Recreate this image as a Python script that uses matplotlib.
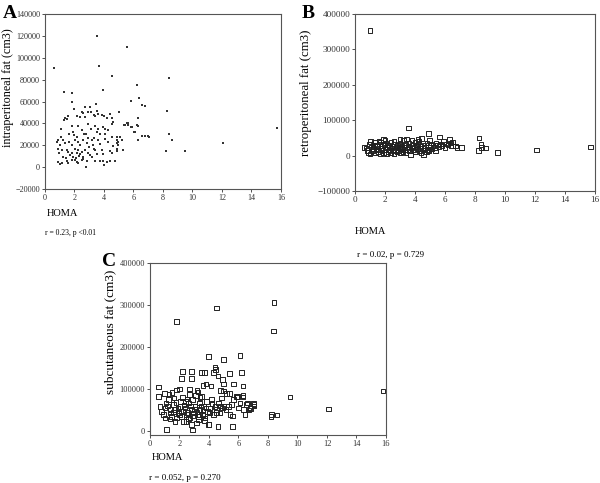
import matplotlib
matplotlib.use("Agg")
import matplotlib.pyplot as plt

plt.rcParams['font.family'] = ['Liberation Serif', 'DejaVu Serif']

# panel A: HOMA vs intraperitoneal fat
homa_a = [0.6, 3.5, 5.56, 3.66, 4.52, 8.43, 3.95, 6.24, 1.31, 1.83, 1.8, 5.83, 6.37, 6.58, 6.78,
          3.48, 2.73, 3.05, 1.97, 5.0, 8.25, 6.3, 1.47, 1.31, 1.06, 6.26, 5.6, 5.62, 5.33, 5.88,
          6.06, 6.6, 6.8, 7.0, 7.02, 6.33, 8.38, 8.63, 8.23, 9.51, 12.1, 15.7,
          2.5, 2.55, 2.9, 3.1, 3.5, 3.62,
          1.36, 1.54, 2.15, 2.35, 2.7, 3.3, 3.4, 3.85, 3.98, 4.2, 4.52, 4.4,
          1.8, 1.92, 2.26, 2.49, 2.67, 2.78, 2.94, 3.12, 3.39, 3.5, 3.57, 3.95, 4.07, 4.29, 4.52,
          4.63, 5.4, 5.54, 5.83, 6.1, 6.28, 4.9, 4.85,
          0.79, 0.9, 1.24, 1.36, 1.63, 1.81, 2.03, 2.26, 2.37, 2.6, 2.82, 3.16, 3.28, 3.34, 3.62,
          3.73, 4.07, 4.29, 4.52, 4.86, 4.97, 4.93, 4.86, 4.86, 5.08, 5.24, 5.31,
          0.86, 0.95, 1.13, 1.02, 1.47, 1.58, 1.7, 1.81, 2.03, 2.15, 2.26, 2.37, 2.49, 2.71, 2.94,
          3.05, 3.39, 3.5, 3.84, 3.95, 4.41, 4.52,
          0.9, 1.02, 1.13, 1.47, 1.58, 1.81, 2.03, 2.15, 2.26, 2.49, 2.6, 2.82, 2.78, 3.39, 3.73,
          3.95, 4.0, 4.18, 4.41, 4.75,
          1.2, 1.4, 1.9, 2.1, 2.3, 2.6, 3.2, 3.3, 2.2, 2.0, 1.6, 3.7, 4.1, 4.6, 3.0, 2.9, 1.1]
fat_a = [90700, 119500, 109400, 92800, 83600, 81800, 70700, 74700, 68900, 67700, 59700, 60600, 63400,
         56700, 56000, 57600, 55100, 55100, 53300, 50000, 51200, 45300, 44400, 42900, 35200, 38900,
         40000, 38500, 38300, 36800, 31900, 28500, 28500, 28500, 27600, 24500, 30000, 24500, 14400,
         14400, 22000, 36100,
         50000, 49200, 50800, 50200, 51000, 49000,
         45000, 46500, 47000, 45500, 46000, 48000, 46500, 48000, 46500, 45000, 45000, 49000,
         37500, 32000, 37500, 34000, 30000, 30000, 39000, 35300, 38000, 32000, 35300, 37000, 35300,
         34300, 39300, 41500, 38300, 40000, 37000, 32000, 38000, 27500, 24500,
         23000, 24500, 25000, 22000, 23000, 20000, 25000, 23000, 20000, 24500, 22000, 24500, 20000,
         17000, 25000, 21500, 26000, 23000, 27500, 22000, 23000, 20000, 17000, 14500, 27500, 25000,
         15500,
         17000, 12500, 15500, 20000, 16000, 14000, 11000, 13000, 17000, 12500, 15500, 12000, 14000,
         15500, 12500, 11000, 15500, 12000, 15500, 12000, 14500, 13000,
         4800, 2500, 3400, 5500, 4000, 6400, 6400, 4900, 3400, 6400, 7000, 5500, 300, 5500, 5500,
         5500, 1800, 4900, 5500, 5500,
         9000, 8000, 9500, 8500, 10000, 9500, 8800, 27000, 28000, 29500, 30500, 30000, 30500, 19000,
         18500, 27000, 27500]

# panel B: HOMA vs retroperitoneal fat
homa_b = [1.0, 3.56, 4.9, 5.64, 8.27, 8.4, 8.45, 8.7, 8.22, 9.5, 12.1, 15.7, 6.8, 7.1, 6.3, 6.35,
          4.2, 3.0, 1.9, 2.6, 5.9, 6.1,
          0.6, 0.75, 0.8, 0.9, 1.0, 1.05, 1.1, 1.15, 1.2, 1.3, 1.35, 1.4, 1.5, 1.55, 1.6, 1.65, 1.7,
          1.75, 1.8, 1.85, 1.9, 2.0, 2.05, 2.1, 2.15, 2.2, 2.25, 2.3, 2.35, 2.4, 2.45, 2.5, 2.55,
          2.6, 2.65, 2.7, 2.75, 2.8, 2.85, 2.9, 2.95, 3.0, 3.05, 3.1, 3.15, 3.2, 3.25, 3.3, 3.35,
          3.4, 3.45, 3.5, 3.55, 3.6, 3.65, 3.7, 3.75, 3.8, 3.85, 3.9, 3.95, 4.0, 4.05, 4.1, 4.15,
          4.2, 4.3, 4.35, 4.4, 4.45, 4.5, 4.55, 4.6, 4.65, 4.7, 4.75, 4.8, 4.85, 4.9, 4.95, 5.0,
          5.1, 5.2, 5.3, 5.4, 5.5, 5.6, 5.7, 5.8, 6.0, 6.2, 6.4, 6.5, 6.7, 5.35, 5.05, 4.25, 3.05,
          2.3, 1.95, 1.45, 1.25, 0.95, 1.7, 2.0]
fat_b = [354000, 78000, 62000, 52000, 50000, 31000, 22000, 21000, 14000, 9500, 16000, 24000, 23000,
         22000, 45000, 36000, 46000, 46000, 45000, 40000, 40000, 33000,
         22000, 21000, 15000, 9000, 5000, 39000, 24000, 14000, 30000, 38000, 7000, 18000, 26000,
         11000, 40000, 33000, 5000, 20000, 14000, 28000, 9000, 18000, 36000, 4000, 24000, 12000,
         30000, 16000, 8000, 38000, 21000, 27000, 13000, 5000, 33000, 18000, 24000, 10000, 29000,
         15000, 21000, 36000, 8000, 26000, 17000, 12000, 42000, 22000, 31000, 9000, 47000, 18000,
         26000, 35000, 13000, 2000, 21000, 44000, 28000, 16000, 24000, 38000, 11000, 30000, 19000,
         34000, 15000, 25000, 8000, 48000, 20000, 3000, 29000, 16000, 22000, 10000, 35000, 18000,
         14000, 42000, 24000, 19000, 28000, 22000, 34000, 30000, 25000, 33000, 28000, 22000, 30000,
         28000, 38000, 27000, 14000, 32000, 40000, 20000, 24000, 30000, 28000, 20000, 32000, 38000,
         44000]

# panel C: HOMA vs subcutaneous fat
homa_c = [1.81, 4.52, 8.4, 8.38, 3.95, 6.1, 5.0, 4.45, 4.4, 2.2, 2.8, 3.5, 3.7, 4.3, 6.2, 5.4, 4.6,
          2.15, 2.8, 4.9, 5.65, 5.0, 3.8, 3.6, 4.13, 6.3, 0.56, 1.0, 2.0, 1.8, 2.66, 3.2, 3.25, 4.8,
          5.0, 5.2, 5.4, 6.3, 6.3, 5.9, 5.95, 9.5, 12.1, 15.8, 8.2, 8.25, 8.6, 7.05, 7.05, 6.6, 6.7,
          6.8, 5.6, 5.6, 4.6, 4.0, 2.9, 1.1,
          0.56, 0.68, 0.79, 0.9, 1.02, 1.08, 1.24, 1.36, 1.4, 1.47, 1.58, 1.63, 1.69, 1.81, 1.92,
          2.03, 2.08, 2.15, 2.26, 2.37, 2.44, 2.49, 2.6, 2.67, 2.71, 2.82, 2.89, 2.94, 3.05, 3.16,
          3.28, 3.34, 3.39, 3.5, 3.57, 3.62, 3.73, 3.84, 3.89, 4.02, 4.07, 4.18, 4.29, 4.41, 4.52,
          4.63, 4.75, 4.86, 4.93, 5.02, 5.15, 5.31, 5.42, 5.54, 5.65, 5.88, 5.99, 6.1, 6.33, 6.44,
          6.55, 6.78, 7.0, 2.82, 3.95, 1.69, 1.02, 1.36, 2.26,
          1.9, 2.1, 2.3, 2.55, 2.75, 3.0, 3.2, 3.45, 3.6, 3.35, 2.4, 2.9, 1.6, 1.2, 3.8, 4.2, 4.5,
          4.8, 2.0, 1.75, 2.2, 2.5, 3.1, 3.4, 1.3, 1.5, 2.6, 3.3, 3.7]
fat_c = [261000, 293000, 306000, 238000, 178000, 180000, 170000, 147000, 152000, 142000, 142000,
         139000, 139000, 140000, 140000, 137000, 131000, 125000, 125000, 123000, 112000, 112000,
         112000, 108000, 107000, 107000, 105000, 90000, 100000, 98000, 100000, 96000, 93000, 96000,
         95000, 89000, 89000, 85000, 81000, 81000, 82000, 81000, 52000, 95000, 35000, 40000, 38000,
         63000, 60000, 67000, 50000, 54000, 36000, 10000, 11000, 15000, 2000, 3000,
         82000, 58000, 46500, 38600, 54500, 66400, 74400, 50500, 42600, 34600, 62400, 78300, 50500,
         30700, 42600, 58400, 70400, 34600, 46500, 54500, 22700, 38600, 66400, 86300, 30700, 50500,
         74400, 42600, 58400, 18700, 34600, 66400, 50500, 82300, 38600, 58400, 30700, 70400, 46500,
         42600, 54500, 74400, 38600, 58400, 50500, 66400, 42600, 78300, 54500, 58400, 50500, 58400,
         38600, 62400, 74400, 82300, 54500, 66400, 50500, 38600, 62400, 54500, 64800, 15900, 15900,
         22700, 30700, 28300, 22700,
         55000, 48000, 62000, 44000, 60000, 52000, 45000, 60000, 48000, 40000, 70000, 36000, 45000,
         60000, 55000, 65000, 44000, 60000, 38000, 68000, 80000, 76000, 85000, 80000, 88000, 92000,
         30000, 28000, 25000]

fig = plt.figure(figsize=(6.0, 4.83), dpi=100)

ax_a = fig.add_axes([0.075, 0.6087, 0.3933, 0.3623])
ax_b = fig.add_axes([0.5917, 0.6046, 0.4, 0.3665])
ax_c = fig.add_axes([0.25, 0.0994, 0.3933, 0.356])

ax_a.scatter(homa_a, fat_a, s=4, marker='s', color='#333333', linewidths=0)
ax_b.scatter(homa_b, fat_b, s=11, marker='s', facecolors='none', edgecolors='#222222', linewidths=0.7)
ax_c.scatter(homa_c, fat_c, s=11, marker='s', facecolors='none', edgecolors='#222222', linewidths=0.7)

ax_a.set_ylim(-20000, 140000)
ax_a.set_yticks(range(-20000, 140001, 20000))
ax_b.set_ylim(-100000, 400000)
ax_b.set_yticks(range(-100000, 400001, 100000))
ax_c.set_ylim(-9500, 400000)
ax_c.set_yticks(range(0, 400001, 100000))

for ax, fs in ((ax_a, 5.9), (ax_b, 6.6), (ax_c, 6.0)):
    ax.set_xlim(0, 16)
    ax.set_xticks(range(0, 17, 2))
    ax.tick_params(labelsize=fs, length=2, width=0.6, pad=1.5, colors='#333333')
    for sp in ax.spines.values():
        sp.set_color('#555555')
        sp.set_linewidth(0.8)

ax_a.set_ylabel("intraperitoneal fat (cm3)", fontsize=8.7)
ax_a.yaxis.set_label_coords(-0.133, 0.577)
ax_b.set_ylabel("retroperitoneal fat (cm3)", fontsize=9.3)
ax_b.yaxis.set_label_coords(-0.18, 0.554)
ax_c.set_ylabel("subcutaneous fat (cm3)", fontsize=9.5)
ax_c.yaxis.set_label_coords(-0.142, 0.6)

W, H = 600.0, 483.0
fig.text(3 / W, 1 - 14 / H, "A", fontsize=14, fontweight='bold', va='center')
fig.text(302 / W, 1 - 14 / H, "B", fontsize=14, fontweight='bold', va='center')
fig.text(102 / W, 1 - 262 / H, "C", fontsize=14, fontweight='bold', va='center')

fig.text(47 / W, 1 - 213 / H, "HOMA", fontsize=7.5, va='center')
fig.text(355 / W, 1 - 232 / H, "HOMA", fontsize=7.5, va='center')
fig.text(152 / W, 1 - 457 / H, "HOMA", fontsize=7.5, va='center')

fig.text(45 / W, 1 - 233 / H, "r = 0.23, p <0.01", fontsize=5.5, va='center')
fig.text(357 / W, 1 - 255 / H, "r = 0.02, p = 0.729", fontsize=6.5, va='center')
fig.text(149 / W, 1 - 478 / H, "r = 0.052, p = 0.270", fontsize=6.5, va='center')

fig.savefig("out.png", dpi=100)
